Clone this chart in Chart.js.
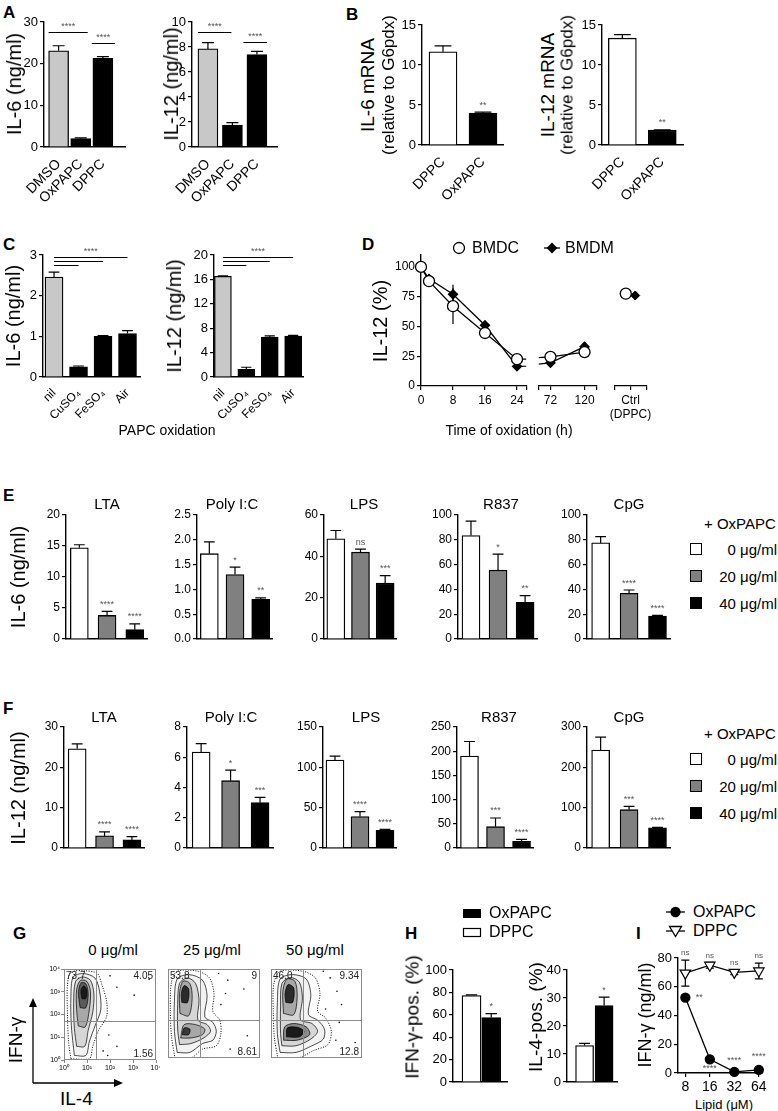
<!DOCTYPE html>
<html>
<head>
<meta charset="utf-8">
<script src="https://cdn.jsdelivr.net/npm/chart.js@4.4.1/dist/chart.umd.min.js"></script>
<style>
  body { margin: 0; background: #fff; }
  #page { position: relative; width: 778px; height: 1111px; overflow: hidden;
          font-family: 'Liberation Sans', Arial, sans-serif; color: #000; }
  #page canvas { position: absolute; }
  .t { position: absolute; white-space: nowrap; line-height: 1; }
  .c { transform: translate(-50%, -50%); }
  .l { transform: translate(0, -50%); }
  .rt { transform: translate(-100%, -50%); }
  .r { transform: translate(-50%, -50%) rotate(-90deg); }
  .b { font-weight: bold; }
  .sq { position: absolute; box-sizing: border-box; border: 1.3px solid #000; }
</style>
</head>
<body>
<div id="page"></div>
<script>
// ---------- data ----------
// A: cytokines after DMSO / OxPAPC / DPPC (ng/ml)
const aGroups = ['DMSO', 'OxPAPC', 'DPPC'];
const aIL6 = [23.1, 2.0, 21.3];
const aIL6Err = [1.2, 0.2, 0.4];
const aIL12 = [7.85, 1.75, 7.4];
const aIL12Err = [0.5, 0.2, 0.25];

// B: mRNA relative to G6pdx
const bGroups = ['DPPC', 'OxPAPC'];
const bIL6 = [11.65, 4.0];
const bIL6Err = [0.75, 0.1];
const bIL12 = [13.35, 1.85];
const bIL12Err = [0.45, 0.05];

// C: PAPC oxidation method
const cGroups = ['nil', 'CuSO₄', 'FeSO₄', 'Air'];
const cIL6 = [2.46, 0.25, 1.0, 1.07];
const cIL6Err = [0.12, 0.02, 0.02, 0.07];
const cIL12 = [16.5, 1.25, 6.55, 6.7];
const cIL12Err = [0.08, 0.35, 0.2, 0.12];

// D: time of oxidation (h) vs IL-12 (%)
const dHours = [0, 2, 8, 16, 24, 72, 120];
const dBMDC = [100, 88, 67, 44.5, 22.5, 24.5, 28.5];
const dBMDCErr = [0, 2, 15, 2, 2, 2, 3];
const dBMDM = [100, 90, 77, 51, 16.5, 19.5, 33];
const dBMDMErr = [0, 4, 8, 2, 2, 2, 4];
const dCtrl = [77.5, 76]; // BMDC, BMDM with DPPC
const dYTicks = [0, 25, 50, 75, 100];

// E / F: TLR ligands + OxPAPC doses
const stimuli = ['LTA', 'Poly I:C', 'LPS', 'R837', 'CpG'];
const doses = ['0 μg/ml', '20 μg/ml', '40 μg/ml'];
const eIL6 = [[14.7, 3.8, 1.5], [1.72, 1.3, 0.8], [48.5, 42, 27], [83.5, 55.5, 29.5], [77.5, 36.8, 18.5]];
const eIL6Err = [[0.5, 0.65, 0.95], [0.24, 0.15, 0.03], [4, 1.5, 3.7], [11.5, 13, 5.5], [5, 2.7, 0.6]];
const eIL6Sig = [['****', '****'], ['*', '**'], ['ns', '***'], ['*', '**'], ['****', '****']];
const eIL6Ticks = [[0, 5, 10, 15, 20], [0, 0.5, 1, 1.5, 2, 2.5], [0, 20, 40, 60], [0, 20, 40, 60, 80, 100], [0, 20, 40, 60, 80, 100]];
const fIL12 = [[24.6, 3.0, 2.0], [6.35, 4.45, 3.0], [109, 39, 22], [190, 44, 14], [243, 95, 50]];
const fIL12Err = [[1.2, 1.0, 0.8], [0.55, 0.7, 0.35], [5, 6, 1], [30, 18, 4], [32, 8, 1]];
const fIL12Sig = [['****', '****'], ['*', '***'], ['****', '****'], ['***', '****'], ['***', '****']];
const fIL12Ticks = [[0, 10, 20, 30], [0, 2, 4, 6, 8], [0, 50, 100, 150], [0, 50, 100, 150, 200, 250], [0, 100, 200, 300]];

// G: flow plots, log10 decades (IL-4 on x, IFN-γ on y), contours outer -> inner
const gDoses = ['0 μg/ml', '25 μg/ml', '50 μg/ml'];
const gQuads = [['73.7', '4.05', '1.56'], ['53.8', '9', '8.61'], ['46.0', '9.34', '12.8']];
const gDecades = ['10⁰', '10¹', '10²', '10³', '10⁴'];
const gGate = [1.4, 1.7];
const gContours = [
  [
    [[0.3,0.05],[1.1,0.05],[1.25,0.6],[1.5,1.3],[1.85,1.9],[1.85,2.6],[1.65,3.3],[1.45,3.8],[0.9,3.92],[0.3,3.85],[0.15,3.3],[0.15,2.0],[0.2,0.8],[0.3,0.05]],
    [[0.45,0.2],[0.95,0.2],[1.1,0.8],[1.35,1.5],[1.6,2.2],[1.55,3.0],[1.35,3.6],[0.85,3.8],[0.4,3.65],[0.3,2.8],[0.32,1.5],[0.45,0.2]],
    [[0.55,0.6],[0.9,0.6],[1.05,1.3],[1.25,2.1],[1.3,2.9],[1.15,3.5],[0.8,3.65],[0.5,3.45],[0.42,2.5],[0.45,1.4],[0.55,0.6]],
    [[0.62,1.5],[0.92,1.45],[1.1,2.2],[1.15,3.0],[1.0,3.45],[0.72,3.5],[0.55,3.1],[0.55,2.2],[0.62,1.5]],
    [[0.7,2.3],[0.95,2.3],[1.05,2.9],[0.95,3.35],[0.75,3.4],[0.63,3.0],[0.7,2.3]],
    [[0.78,2.7],[0.95,2.7],[0.98,3.1],[0.85,3.25],[0.74,3.05],[0.78,2.7]]
  ],
  [
    [[0.3,0.0],[1.0,0.0],[1.5,0.4],[2.1,0.55],[2.3,1.1],[2.25,1.7],[1.95,2.1],[2.0,2.9],[1.8,3.6],[1.3,3.9],[0.4,3.9],[0.15,3.4],[0.1,2.2],[0.15,1.0],[0.3,0.0]],
    [[0.4,0.25],[0.95,0.25],[1.5,0.65],[1.95,0.8],[2.1,1.2],[1.95,1.6],[1.6,1.85],[1.7,2.8],[1.5,3.5],[0.9,3.75],[0.4,3.55],[0.28,2.6],[0.28,1.2],[0.4,0.25]],
    [[0.5,0.6],[1.0,0.65],[1.55,0.9],[1.85,1.2],[1.7,1.5],[1.3,1.7],[1.35,2.6],[1.2,3.35],[0.85,3.6],[0.5,3.35],[0.42,2.4],[0.42,1.3],[0.5,0.6]],
    [[0.55,0.9],[1.0,0.9],[1.5,1.05],[1.6,1.3],[1.2,1.5],[0.7,1.5],[0.55,0.9]],
    [[0.52,2.0],[0.9,1.9],[1.05,2.7],[0.95,3.35],[0.65,3.45],[0.5,2.9],[0.52,2.0]],
    [[0.6,2.5],[0.85,2.5],[0.9,3.1],[0.7,3.25],[0.58,2.9],[0.6,2.5]],
    [[0.62,1.05],[0.9,1.05],[0.95,1.3],[0.7,1.35],[0.62,1.05]]
  ],
  [
    [[0.3,0.0],[1.2,0.0],[1.9,0.35],[2.5,0.6],[2.65,1.2],[2.4,1.8],[2.05,2.1],[2.15,2.9],[1.95,3.6],[1.4,3.9],[0.4,3.9],[0.12,3.3],[0.1,2.1],[0.15,0.9],[0.3,0.0]],
    [[0.4,0.25],[1.1,0.25],[1.8,0.55],[2.3,0.85],[2.35,1.3],[2.05,1.7],[1.65,1.95],[1.75,2.85],[1.55,3.55],[0.95,3.75],[0.4,3.55],[0.28,2.5],[0.28,1.1],[0.4,0.25]],
    [[0.48,0.55],[1.1,0.55],[1.75,0.85],[2.05,1.2],[1.8,1.55],[1.3,1.72],[1.38,2.7],[1.25,3.4],[0.85,3.62],[0.48,3.35],[0.42,2.3],[0.42,1.1],[0.48,0.55]],
    [[0.55,0.8],[1.15,0.8],[1.7,1.05],[1.55,1.4],[1.0,1.55],[0.6,1.4],[0.55,0.8]],
    [[0.55,2.0],[1.0,1.95],[1.15,2.75],[1.05,3.45],[0.7,3.55],[0.52,3.0],[0.55,2.0]],
    [[0.65,2.5],[0.95,2.5],[1.0,3.15],[0.75,3.3],[0.62,2.9],[0.65,2.5]],
    [[0.68,0.95],[1.25,0.95],[1.45,1.2],[1.15,1.38],[0.72,1.35],[0.68,0.95]]
  ]
];
// density shade of each contour level (outer -> inner)
const gShades = [
  [null, '#f2f2f2', '#d6d6d6', '#a8a8a8', '#5a5a5a', '#1a1a1a'],
  [null, '#f2f2f2', '#d6d6d6', '#a8a8a8', '#a8a8a8', '#2a2a2a', '#3a3a3a'],
  [null, '#f2f2f2', '#d6d6d6', '#8a8a8a', '#a8a8a8', '#2a2a2a', '#1a1a1a']
];
const gDots = [
  [[2.0,3.7],[2.3,3.2],[1.95,1.1],[3.05,2.85],[1.7,0.4],[2.3,0.6],[1.9,0.2],[3.7,3.55]],
  [[2.6,3.5],[3.3,3.1],[2.3,2.4],[3.45,1.0],[2.7,0.4],[2.5,2.9],[2.2,3.8]],
  [[2.6,3.6],[2.9,3.0],[3.1,2.4],[2.85,0.8],[3.7,0.7],[2.4,2.2],[3.0,1.6],[2.3,3.9]]
];

// H: % positive cells
const hIFNg = [77.2, 57.6];
const hIFNgErr = [0.6, 3.5];
const hIL4 = [13.0, 27.3];
const hIL4Err = [0.8, 3.0];

// I: IFN-γ vs lipid dose
const iLipid = [8, 16, 32, 64];
const iOx = [52.5, 9.5, 0.8, 2.2];
const iOxErr = [1.5, 1.2, 0.3, 0.6];
const iDPPC = [69.5, 75, 70, 71];
const iDPPCErr = [9, 2, 1.5, 5.5];

// ---------- helpers ----------
const SANS = "'Liberation Sans', Arial, sans-serif";
const page = document.getElementById('page');

Chart.defaults.font.family = SANS;
Chart.defaults.color = '#000';
Chart.defaults.animation = false;
Chart.defaults.responsive = false;
Chart.defaults.events = [];
Chart.defaults.plugins.legend.display = false;
Chart.defaults.plugins.tooltip.enabled = false;

function addCanvas(left, top, width, height) {
  const cv = document.createElement('canvas');
  cv.width = Math.round(width);
  cv.height = Math.round(height);
  cv.style.left = Math.round(left) + 'px';
  cv.style.top = Math.round(top) + 'px';
  page.appendChild(cv);
  return cv;
}

function label(text, x, y, size, cls) {
  const d = document.createElement('div');
  d.className = 't ' + (cls || 'c');
  d.style.left = x + 'px';
  d.style.top = y + 'px';
  d.style.fontSize = size + 'px';
  d.textContent = text;
  page.appendChild(d);
  return d;
}

function square(x, y, size, color) {
  const d = document.createElement('div');
  d.className = 'sq';
  d.style.cssText += `left:${x}px;top:${y}px;width:${size}px;height:${size}px;background:${color}`;
  page.appendChild(d);
}

// error bars: up only for bars, both ways when ds.errBoth
const errorBars = {
  id: 'errorBars',
  beforeDatasetsDraw(chart) {
    const { ctx, chartArea: a } = chart;
    chart.data.datasets.forEach((ds, di) => {
      if (!ds.errors) return;
      const meta = chart.getDatasetMeta(di);
      const ys = chart.scales[meta.yAxisID];
      ctx.save();
      ctx.strokeStyle = '#000';
      ctx.lineWidth = 1.2;
      meta.data.forEach((el, i) => {
        const e = ds.errors[i];
        if (!e || el.x < a.left - 1 || el.x > a.right + 1) return;
        const v = meta.controller.getParsed(i).y;
        const hi = ys.getPixelForValue(v + e);
        const lo = ys.getPixelForValue(ds.errBoth ? v - e : v);
        const cap = ds.errCap != null ? ds.errCap : (el.width || 0) * 0.3;
        ctx.beginPath();
        ctx.moveTo(el.x, lo);
        ctx.lineTo(el.x, hi);
        if (cap) {
          ctx.moveTo(el.x - cap, hi);
          ctx.lineTo(el.x + cap, hi);
          if (ds.errBoth) { ctx.moveTo(el.x - cap, lo); ctx.lineTo(el.x + cap, lo); }
        }
        ctx.stroke();
      });
      ctx.restore();
    });
  }
};

// significance marks written next to the marks
const notes = {
  id: 'notes',
  afterDatasetsDraw(chart) {
    const { ctx } = chart;
    chart.data.datasets.forEach((ds, di) => {
      if (!ds.notes) return;
      const meta = chart.getDatasetMeta(di);
      const ys = chart.scales[meta.yAxisID];
      ctx.save();
      ctx.fillStyle = '#555';
      ctx.font = `${ds.noteSize || 9}px ${SANS}`;
      ctx.textAlign = 'center';
      ctx.textBaseline = 'middle';
      ds.notes.forEach((n, k) => {
        if (!n) return;
        const note = typeof n === 'string' ? { text: n } : n;
        const i = note.i != null ? note.i : k;
        const el = meta.data[i];
        const v = meta.controller.getParsed(i).y;
        const e = (ds.errors && ds.errors[i]) || 0;
        const base = note.at === 'point' ? el.y : ys.getPixelForValue(v + e);
        ctx.fillText(note.text, el.x + (note.dx || 0), base - (note.dy != null ? note.dy : 7));
      });
      ctx.restore();
    });
  }
};

// comparison brackets above bars
const sigLines = {
  id: 'sigLines',
  afterDatasetsDraw(chart) {
    const ds = chart.data.datasets[0];
    if (!ds || !ds.sig) return;
    const { ctx } = chart;
    const meta = chart.getDatasetMeta(0);
    const ys = chart.scales.y;
    ctx.save();
    ctx.strokeStyle = '#000';
    ctx.lineWidth = 1;
    ctx.fillStyle = '#555';
    ctx.font = `9px ${SANS}`;
    ctx.textAlign = 'center';
    ctx.textBaseline = 'bottom';
    ds.sig.forEach(s => {
      const x1 = meta.data[s.from].x + (s.dx1 || 0);
      const x2 = meta.data[s.to].x + (s.dx2 || 0);
      const py = Math.round(ys.getPixelForValue(s.value)) + 0.5;
      ctx.beginPath();
      ctx.moveTo(x1, py);
      ctx.lineTo(x2, py);
      ctx.stroke();
      if (s.text) ctx.fillText(s.text, (x1 + x2) / 2, py - 1);
    });
    ctx.restore();
  }
};

Chart.register(errorBars, notes, sigLines);

function yAxis(ticks, o) {
  return {
    display: o.display !== false,
    min: 0,
    max: o.max != null ? o.max : ticks[ticks.length - 1],
    afterBuildTicks: s => { s.ticks = ticks.map(v => ({ value: v })); },
    ticks: {
      font: { size: o.size || 13 }, color: '#000', padding: 2,
      callback: v => (o.dec ? v.toFixed(o.dec) : String(v))
    },
    grid: { drawOnChartArea: false, color: '#000', tickLength: 4, lineWidth: 1.2 },
    border: { color: '#000', width: 1.4 },
    afterFit: s => { s.width = o.yw; s.paddingTop = 0; s.paddingBottom = 0; }
  };
}

function barChart(o) {
  const padTop = o.padTop || 14, padRight = 3;
  const yw = o.yw || 30, xh = o.xh || 4;
  const top = o.plotTop - padTop;
  const cv = addCanvas(o.axisX - yw, top, o.plotRight - o.axisX + yw + padRight, o.plotBottom - top + xh);
  const labels = o.labels || [];
  return new Chart(cv, {
    type: 'bar',
    data: {
      datasets: [{
        data: o.values.map((v, i) => ({ x: i, y: v })),
        errors: o.errors, notes: o.notes, sig: o.sig,
        backgroundColor: o.colors, borderColor: '#000', borderWidth: 1.3,
        barThickness: o.barW
      }]
    },
    options: {
      layout: { padding: { top: padTop, right: padRight, left: 0, bottom: 0 } },
      scales: {
        x: {
          type: 'linear', min: o.xMin, max: o.xMax, offset: false, bounds: 'data',
          afterBuildTicks: s => { s.ticks = o.values.map((_, i) => ({ value: i })); },
          ticks: {
            display: labels.length > 0, autoSkip: false, callback: v => labels[v],
            minRotation: o.rot || 0, maxRotation: o.rot || 0, padding: 1,
            font: { size: o.xSize || 14 }, color: '#000'
          },
          grid: { display: false, offset: false },
          border: { color: '#000', width: 1.4 },
          afterFit: s => { s.height = xh; s.paddingLeft = 0; s.paddingRight = 0; }
        },
        y: yAxis(o.yTicks, { yw, size: o.ySize, dec: o.dec })
      }
    }
  });
}

// ---------- panel letters ----------
[['A', 3, 4], ['B', 346, 6], ['C', 3, 236], ['D', 362, 236], ['E', 3, 487],
 ['F', 3, 700], ['G', 13, 925], ['H', 405, 925], ['I', 636, 925]].forEach(([t, x, y]) => {
  const d = label(t, x, y, 17, 'b');
  d.style.transform = 'none';
});

// ---------- A ----------
barChart({ axisX: 44, plotRight: 125, plotTop: 22, plotBottom: 147, xMin: -0.66, xMax: 3.0, barW: 20,
  labels: aGroups, values: aIL6, errors: aIL6Err, colors: ['#c8c8c8', '#000', '#000'],
  yTicks: [0, 10, 20, 30], yw: 30, xh: 64, rot: 45,
  sig: [{ from: 0, to: 1, value: 27.6, text: '****', dx1: -10, dx2: 7 },
        { from: 1, to: 2, value: 24.9, text: '****', dx1: 11, dx2: 12 }] });
barChart({ axisX: 192, plotRight: 277, plotTop: 22, plotBottom: 147, xMin: -0.65, xMax: 2.82, barW: 20,
  labels: aGroups, values: aIL12, errors: aIL12Err, colors: ['#c8c8c8', '#000', '#000'],
  yTicks: [0, 2, 4, 6, 8, 10], yw: 30, xh: 64, rot: 45,
  sig: [{ from: 0, to: 1, value: 9.2, text: '****', dx1: -10, dx2: -1 },
        { from: 1, to: 2, value: 8.4, text: '****', dx1: 11, dx2: 10 }] });
label('IL-6 (ng/ml)', 14, 84, 20, 'r');
label('IL-12 (ng/ml)', 171, 84, 20, 'r');

// ---------- B ----------
barChart({ axisX: 422, plotRight: 503, plotTop: 25, plotBottom: 145, xMin: -0.525, xMax: 1.5, barW: 28,
  labels: bGroups, values: bIL6, errors: bIL6Err, colors: ['#fff', '#000'],
  yTicks: [0, 5, 10, 15], yw: 30, xh: 64, rot: 45, notes: ['', '**'] });
barChart({ axisX: 602, plotRight: 683, plotTop: 25, plotBottom: 145, xMin: -0.51, xMax: 1.52, barW: 28,
  labels: bGroups, values: bIL12, errors: bIL12Err, colors: ['#fff', '#000'],
  yTicks: [0, 5, 10, 15], yw: 30, xh: 64, rot: 45, notes: ['', '**'] });
label('IL-6 mRNA', 367, 85, 19, 'r');
label('(relative to G6pdx)', 388, 85, 17, 'r');
label('IL-12 mRNA', 547, 85, 19, 'r');
label('(relative to G6pdx)', 567, 85, 17, 'r');

// ---------- C ----------
barChart({ axisX: 43, plotRight: 140, plotTop: 255, plotBottom: 377, xMin: -0.45, xMax: 3.51, barW: 18,
  labels: cGroups, values: cIL6, errors: cIL6Err, colors: ['#c8c8c8', '#000', '#000', '#000'],
  yTicks: [0, 1, 2, 3], yw: 30, xh: 46, rot: 45, xSize: 12,
  sig: [{ from: 0, to: 3, value: 2.95, text: '****' }, { from: 0, to: 2, value: 2.85 }, { from: 0, to: 1, value: 2.75 }] });
barChart({ axisX: 214, plotRight: 303, plotTop: 255, plotBottom: 377, xMin: -0.38, xMax: 3.42, barW: 17,
  labels: cGroups, values: cIL12, errors: cIL12Err, colors: ['#c8c8c8', '#000', '#000', '#000'],
  yTicks: [0, 4, 8, 12, 16, 20], yw: 30, xh: 46, rot: 45, xSize: 12,
  sig: [{ from: 0, to: 3, value: 19.67, text: '****' }, { from: 0, to: 2, value: 19.0 }, { from: 0, to: 1, value: 18.36 }] });
label('IL-6 (ng/ml)', 13, 316, 20, 'r');
label('IL-12 (ng/ml)', 174, 316, 20, 'r');
label('PAPC oxidation', 167, 430, 14);

// ---------- D (broken time axis: three segments) ----------
const dTop = 255, dBottom = 386, dMax = 110;
function dChart(o) {
  const yw = o.showY ? 30 : 0, padL = o.showY ? 0 : 6, padTop = 14, padR = 6, xh = 36;
  const cv = addCanvas(o.left - yw - padL, dTop - padTop, o.right - o.left + yw + padL + padR, dBottom - dTop + padTop + xh);
  return new Chart(cv, {
    type: 'line',
    data: { datasets: o.datasets },
    options: {
      layout: { padding: { top: padTop, left: padL, right: padR, bottom: 0 } },
      scales: {
        x: {
          type: 'linear', min: o.xMin, max: o.xMax, bounds: 'data',
          afterBuildTicks: s => { s.ticks = o.ticks.map(v => ({ value: v })); },
          ticks: { callback: o.tickLabel, font: { size: 12 }, padding: 3, maxRotation: 0, autoSkip: false },
          grid: { drawOnChartArea: false, color: '#000', tickLength: 4, lineWidth: 1.2 },
          border: { color: '#000', width: 1.3 },
          afterFit: s => { s.height = xh; s.paddingLeft = 0; s.paddingRight = 0; }
        },
        y: Object.assign(yAxis(dYTicks, { yw, size: 12, max: dMax }), { display: !!o.showY })
      }
    }
  });
}
function dSeries(vals, errs, style, clip) {
  return Object.assign({
    data: dHours.map((h, i) => ({ x: h, y: vals[i] })),
    errors: errs, errBoth: true, errCap: 0,
    borderColor: '#000', borderWidth: 1.3, pointBorderColor: '#000', pointBorderWidth: 1.3, clip
  }, style);
}
const bmdcStyle = { pointStyle: 'circle', pointRadius: 5.5, pointBackgroundColor: '#fff' };
const bmdmStyle = { pointStyle: 'rectRot', pointRadius: 4.5, pointBackgroundColor: '#000' };
const clipLeftOpen = { left: 9, top: 9, right: 0, bottom: 9 };
const clipShut = { left: 0, top: 9, right: 0, bottom: 9 };
dChart({ left: 421, right: 527, showY: true, xMin: 0, xMax: 26.3, ticks: [0, 8, 16, 24, 26.3],
  tickLabel: v => (v === 26.3 ? '' : String(v)),
  datasets: [dSeries(dBMDC, dBMDCErr, bmdcStyle, clipLeftOpen), dSeries(dBMDM, dBMDMErr, bmdmStyle, clipLeftOpen)] });
dChart({ left: 538, right: 597, xMin: 55.6, xMax: 136.4, ticks: [55.6, 72, 120, 136.4],
  tickLabel: v => (v === 72 || v === 120 ? String(v) : ''),
  datasets: [dSeries(dBMDC, dBMDCErr, bmdcStyle, clipShut), dSeries(dBMDM, dBMDMErr, bmdmStyle, clipShut)] });
dChart({ left: 614, right: 647, xMin: -1, xMax: 1, ticks: [-1, 0, 1],
  tickLabel: v => (v === 0 ? ['Ctrl', '(DPPC)'] : ''),
  datasets: [
    Object.assign({ data: [{ x: -0.3, y: dCtrl[0] }], showLine: false, pointBorderColor: '#000', pointBorderWidth: 1.3, clip: false }, bmdcStyle),
    Object.assign({ data: [{ x: 0.3, y: dCtrl[1] }], showLine: false, pointBorderColor: '#000', clip: false }, bmdmStyle)
  ] });
label('IL-12 (%)', 380, 321, 20, 'r');
label('Time of oxidation (h)', 509, 430, 14);
label('BMDC', 472, 248, 16, 'l');
label('BMDM', 565, 248, 16, 'l');

// ---------- E / F ----------
const doseColors = ['#fff', '#808080', '#000'];
const ePlots = [[66, 147], [197, 272], [324, 396], [458, 537], [587, 670]];
const fPlots = [[64, 144], [187, 273], [323, 396], [457, 533], [587, 670]];
const eTitleX = [107, 232, 364, 501, 629];
const fTitleX = [104, 231, 366, 499, 629];
stimuli.forEach((name, k) => {
  barChart({ axisX: ePlots[k][0], plotRight: ePlots[k][1], plotTop: 515, plotBottom: 639,
    xMin: -0.48, xMax: 2.44, barW: 18, values: eIL6[k], errors: eIL6Err[k], colors: doseColors,
    yTicks: eIL6Ticks[k], yw: 28, ySize: 12, dec: k === 1 ? 1 : 0, notes: ['', ...eIL6Sig[k]] });
  barChart({ axisX: fPlots[k][0], plotRight: fPlots[k][1], plotTop: 727, plotBottom: 848,
    xMin: -0.48, xMax: 2.44, barW: 18, values: fIL12[k], errors: fIL12Err[k], colors: doseColors,
    yTicks: fIL12Ticks[k], yw: 28, ySize: 12, notes: ['', ...fIL12Sig[k]] });
  label(name, eTitleX[k], 503, 15);
  label(name, fTitleX[k], 716, 15);
});
label('IL-6 (ng/ml)', 18, 577, 20, 'r');
label('IL-12 (ng/ml)', 18, 788, 20, 'r');
function doseLegend(y0) {
  label('+ OxPAPC', 704, y0, 15, 'l');
  doses.forEach((d, i) => {
    const cy = y0 + 26 + i * 27;
    square(690, cy - 6, 12, doseColors[i]);
    label(d, 777, cy, 15, 'rt');
  });
}
doseLegend(523);
doseLegend(733);

// ---------- G ----------
function flowPlot(k, left, right, withAxes) {
  const top = 967, bottom = 1060, pad = 2;
  const yw = withAxes ? 18 : 0, xh = withAxes ? 13 : 0;
  const cv = addCanvas(left - yw - pad, top - pad, right - left + yw + 2 * pad, bottom - top + xh + 2 * pad);
  const levels = gContours[k];
  const sets = levels.map((poly, j) => ({
    data: poly.map(([x, y]) => ({ x, y })),
    order: levels.length - j, // outer levels drawn first
    showLine: true, tension: 0.3, pointRadius: 0,
    borderColor: '#000', borderWidth: j === 0 ? 1 : 0.7, borderDash: j === 0 ? [1, 1.5] : [],
    fill: gShades[k][j] ? 'shape' : false, backgroundColor: gShades[k][j] || 'transparent'
  }));
  sets.push({ data: gDots[k].map(([x, y]) => ({ x, y })), order: 0, pointRadius: 0.8,
              pointBackgroundColor: '#000', pointBorderWidth: 0 });
  const axis = {
    display: withAxes, min: 0, max: 4,
    afterBuildTicks: s => { s.ticks = gDecades.map((_, i) => ({ value: i })); },
    ticks: { callback: v => gDecades[v], font: { size: 7 }, padding: 1, maxRotation: 0, autoSkip: false },
    grid: { drawOnChartArea: false, color: '#888', tickLength: 3 },
    border: { display: false }
  };
  new Chart(cv, {
    type: 'scatter',
    data: { datasets: sets },
    options: {
      layout: { padding: pad },
      scales: {
        x: Object.assign({}, axis, { afterFit: s => { s.height = xh; s.paddingLeft = 0; s.paddingRight = 0; } }),
        y: Object.assign({}, axis, { afterFit: s => { s.width = yw; s.paddingTop = 0; s.paddingBottom = 0; } })
      }
    },
    plugins: [{
      id: 'frame',
      afterDatasetsDraw(chart) {
        const { ctx, chartArea: a, scales: { x, y } } = chart;
        ctx.save();
        ctx.strokeStyle = '#8a8a8a';
        ctx.lineWidth = 1;
        ctx.strokeRect(a.left + 0.5, a.top + 0.5, a.width - 1, a.height - 1);
        const gx = Math.round(x.getPixelForValue(gGate[0])) + 0.5;
        const gy = Math.round(y.getPixelForValue(gGate[1])) + 0.5;
        ctx.beginPath();
        ctx.moveTo(gx, a.top); ctx.lineTo(gx, a.bottom);
        ctx.moveTo(a.left, gy); ctx.lineTo(a.right, gy);
        ctx.stroke();
        const [tl, tr, br] = gQuads[k];
        ctx.fillStyle = '#222';
        ctx.font = `10px ${SANS}`;
        ctx.textBaseline = 'top';
        ctx.textAlign = 'left';
        ctx.fillText(tl, a.left + 2, a.top + 2);
        ctx.textAlign = 'right';
        ctx.fillText(tr, a.right - 3, a.top + 2);
        ctx.textBaseline = 'bottom';
        ctx.fillText(br, a.right - 3, a.bottom - 1);
        ctx.restore();
      }
    }]
  });
}
flowPlot(0, 64, 158, true);
flowPlot(1, 166, 262, false);
flowPlot(2, 269, 364, false);
[113, 212, 315].forEach((x, k) => label(gDoses[k], x, 949, 15));
label('IFN-γ', 15, 1040, 19, 'r');
label('IL-4', 60, 1098, 19, 'l');

// ---------- H ----------
barChart({ axisX: 453, plotRight: 507, plotTop: 970, plotBottom: 1082, xMin: -0.94, xMax: 1.8, barW: 19,
  values: hIFNg, errors: hIFNgErr, colors: ['#fff', '#000'], yTicks: [0, 20, 40, 60, 80, 100],
  yw: 32, ySize: 13, notes: ['', '*'] });
barChart({ axisX: 567, plotRight: 617, plotTop: 970, plotBottom: 1082, xMin: -0.9, xMax: 1.66, barW: 18,
  values: hIL4, errors: hIL4Err, colors: ['#fff', '#000'], yTicks: [0, 10, 20, 30, 40],
  yw: 30, ySize: 13, notes: ['', '*'] });
label('IFN-γ-pos. (%)', 412, 1017, 19, 'r');
label('IL-4-pos. (%)', 535, 1017, 19, 'r');
label('OxPAPC', 489, 913, 16, 'l');
label('DPPC', 489, 932, 16, 'l');

// ---------- I ----------
{
  const padTop = 16, yw = 26, xh = 22;
  const cv = addCanvas(678 - yw, 958 - padTop, 763 - 678 + yw + 8, 1073 - 958 + padTop + xh);
  new Chart(cv, {
    type: 'line',
    data: {
      datasets: [
        { data: iLipid.map((x, i) => ({ x, y: iOx[i] })), errors: iOxErr, errBoth: true, errCap: 3,
          borderColor: '#000', borderWidth: 1.3, pointRadius: 4.5, pointBackgroundColor: '#000',
          pointBorderColor: '#000', clip: false,
          notes: [{ i: 0, text: '**', dx: 14, dy: 0, at: 'point' }, { i: 1, text: '****', dy: -9, at: 'point' },
                  { i: 2, text: '****', dy: 11, at: 'point' }, { i: 3, text: '****', dy: 13, at: 'point' }] },
        { data: iLipid.map((x, i) => ({ x, y: iDPPC[i] })), errors: iDPPCErr, errBoth: true, errCap: 4,
          borderColor: '#000', borderWidth: 1.2, pointStyle: 'triangle', pointRotation: 180, pointRadius: 6,
          pointBackgroundColor: '#fff', pointBorderColor: '#000', pointBorderWidth: 1.2, clip: false,
          notes: ['ns', 'ns', 'ns', 'ns'], noteSize: 8 }
      ]
    },
    options: {
      layout: { padding: { top: padTop, right: 8, left: 0, bottom: 0 } },
      scales: {
        x: {
          type: 'logarithmic', min: 6.5, max: 72,
          afterBuildTicks: s => { s.ticks = iLipid.map(v => ({ value: v })); },
          ticks: { callback: v => String(v), font: { size: 14 }, padding: 2, maxRotation: 0, autoSkip: false },
          grid: { drawOnChartArea: false, color: '#000', tickLength: 4, lineWidth: 1.2 },
          border: { color: '#000', width: 1.4 },
          afterFit: s => { s.height = xh; s.paddingLeft = 0; s.paddingRight = 0; }
        },
        y: yAxis([0, 20, 40, 60, 80], { yw, size: 13 })
      }
    }
  });
}
label('IFN-γ (ng/ml)', 645, 1015, 18, 'r');
label('Lipid (μM)', 724, 1104, 13);
label('OxPAPC', 693, 912, 16, 'l');
label('DPPC', 693, 931, 16, 'l');

// ---------- legend markers and flow axes arrows ----------
page.insertAdjacentHTML('beforeend', `
<svg width="778" height="1111" style="position:absolute;left:0;top:0;pointer-events:none">
  <g stroke="#000" stroke-width="1.3">
    <circle cx="459" cy="248" r="5.5" fill="#fff"/>
    <line x1="544" y1="248" x2="560" y2="248"/>
    <polygon points="552,243.5 556.5,248 552,252.5 547.5,248" fill="#000"/>
    <line x1="666" y1="912" x2="685" y2="912"/>
    <circle cx="675.5" cy="912" r="4.5" fill="#000"/>
    <line x1="666" y1="931" x2="685" y2="931"/>
    <polygon points="669.5,926.5 681.5,926.5 675.5,936.5" fill="#fff"/>
    <line x1="33" y1="1083" x2="33" y2="1004"/>
    <line x1="33" y1="1083" x2="116" y2="1083"/>
  </g>
  <rect x="463" y="909" width="18" height="9" fill="#000"/>
  <rect x="463.5" y="928.5" width="17" height="8" fill="#fff" stroke="#000" stroke-width="1.2"/>
  <polygon points="29,1007 37,1007 33,998" fill="#000"/>
  <polygon points="114,1079 114,1087 123,1083" fill="#000"/>
</svg>`);
</script>
</body>
</html>
